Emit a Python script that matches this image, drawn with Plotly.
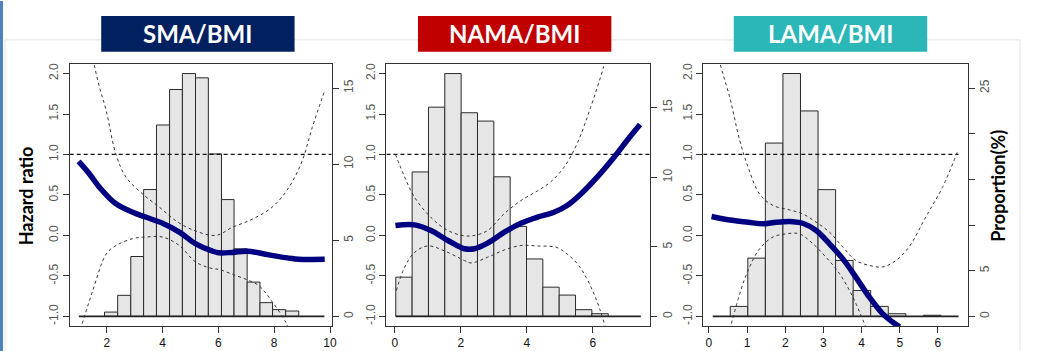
import plotly.graph_objects as go

W, H = 1042, 351

# ---------------- data ----------------
panel_titles = ["SMA/BMI", "NAMA/BMI", "LAMA/BMI"]
title_colors = ["#002060", "#C00000", "#2BB6B8"]

# SMA / BMI
sma_edges = [1.00, 1.46, 1.92, 2.39, 2.86, 3.32, 3.78, 4.25, 4.71, 5.18, 5.64,
             6.11, 6.56, 7.03, 7.49, 7.94, 8.41, 8.88, 9.33, 9.80]
sma_pct = [0, 0, 0.28, 1.38, 3.93, 8.33, 12.57, 14.9, 15.95, 15.67, 10.67,
           7.67, 4.44, 2.25, 0.9, 0.44, 0.35, 0, 0]
sma_hr_x = [0.99, 1.38, 1.74, 2.33, 2.93, 3.41, 4.0, 4.6, 5.19, 5.79, 6.02, 6.5, 7.04, 7.81, 8.76, 9.81]
sma_hr_y = [0.915, 0.76, 0.594, 0.39, 0.286, 0.224, 0.15, 0.04, -0.104, -0.195, -0.215, -0.21, -0.195, -0.24, -0.29, -0.295]
sma_up_x = [1.50, 1.54, 1.74, 1.98, 2.33, 2.69, 3.29, 3.88, 4.48, 5.07, 5.9, 6.5, 7.21, 7.93, 8.52, 9.0, 9.36, 9.81]
sma_up_y = [2.25, 2.13, 1.83, 1.54, 1.0, 0.72, 0.51, 0.35, 0.18, 0.07, 0.0, 0.10, 0.20, 0.35, 0.59, 0.92, 1.33, 1.79]
sma_lo_x = [1.12, 1.5, 1.98, 2.33, 2.93, 3.41, 4.0, 4.6, 5.19, 5.79, 6.02, 6.5, 7.04, 7.45, 7.93, 8.41, 8.5]
sma_lo_y = [-1.09, -0.68, -0.23, -0.125, -0.04, -0.02, -0.02, -0.125, -0.33, -0.41, -0.42, -0.48, -0.55, -0.62, -0.82, -1.07, -1.15]

# NAMA / BMI
nama_edges = [0.03, 0.525, 1.02, 1.515, 2.01, 2.505, 3.0, 3.495, 3.99, 4.485,
              4.98, 5.475, 5.97, 6.465, 6.96, 7.455]
nama_pct = [2.82, 10.39, 15.05, 17.47, 14.65, 14.05, 10.04, 6.47, 4.13, 2.1,
            1.53, 0.48, 0.19, 0, 0]
nama_hr_x = [0.02, 0.6, 1.1, 1.61, 2.11, 2.41, 2.81, 3.32, 3.82, 4.32, 4.82, 5.22, 5.63, 6.13, 6.63, 7.03, 7.43]
nama_hr_y = [0.122, 0.13, 0.06, -0.063, -0.165, -0.165, -0.096, 0.04, 0.15, 0.225, 0.286, 0.37, 0.51, 0.72, 0.96, 1.17, 1.37]
nama_up_x = [0.02, 0.3, 0.6, 1.1, 1.61, 2.11, 2.41, 2.81, 3.32, 3.82, 4.32, 4.72, 5.12, 5.52, 5.93, 6.33, 6.45]
nama_up_y = [1.0, 0.72, 0.47, 0.22, 0.06, -0.005, 0.0, 0.06, 0.27, 0.43, 0.55, 0.66, 0.84, 1.13, 1.58, 2.09, 2.3]
nama_lo_x = [0.05, 0.3, 0.6, 1.0, 1.5, 2.11, 2.31, 2.81, 3.32, 3.82, 4.32, 4.92, 5.22, 5.53, 5.8, 6.03, 6.2, 6.38]
nama_lo_y = [-0.68, -0.39, -0.21, -0.13, -0.19, -0.31, -0.34, -0.27, -0.18, -0.125, -0.13, -0.15, -0.23, -0.35, -0.52, -0.72, -0.9, -1.13]

# LAMA / BMI
lama_edges = [0.10, 0.56, 1.02, 1.48, 1.94, 2.40, 2.86, 3.32, 3.78, 4.24, 4.70,
              5.16, 5.62, 6.08, 6.54]
lama_pct = [0, 1.09, 6.38, 18.98, 26.6, 22.5, 13.88, 6.12, 2.84, 1.09, 0.29,
            0, 0.12, 0]
lama_hr_x = [0.07, 0.55, 1.03, 1.42, 1.77, 2.2, 2.46, 2.81, 3.16, 3.51, 3.85, 4.2, 4.55, 4.81, 5.0]
lama_hr_y = [0.233, 0.19, 0.163, 0.143, 0.163, 0.17, 0.15, 0.06, -0.104, -0.29, -0.515, -0.76, -0.967, -1.07, -1.13]
lama_up_x = [0.25, 0.29, 0.55, 0.81, 1.03, 1.33, 1.68, 2.11, 2.46, 2.81, 3.16, 3.51, 3.85, 4.2, 4.55, 4.9, 5.24, 5.68, 6.12, 6.51]
lama_up_y = [2.25, 2.13, 1.7, 1.17, 0.84, 0.51, 0.37, 0.316, 0.266, 0.163, 0.04, -0.145, -0.31, -0.37, -0.39, -0.31, -0.145, 0.225, 0.594, 1.03]
lama_lo_x = [0.59, 0.81, 1.03, 1.33, 1.68, 2.03, 2.37, 2.72, 3.07, 3.42, 3.77, 4.11]
lama_lo_y = [-1.09, -0.72, -0.43, -0.165, -0.02, 0.02, 0.02, -0.1, -0.27, -0.47, -0.76, -1.13]

hr_ticks = [-1.0, -0.5, 0.0, 0.5, 1.0, 1.5, 2.0]
hr_ticktext = ["-1.0", "-0.5", "0.0", "0.5", "1.0", "1.5", "2.0"]
sma_xticks = [2, 4, 6, 8, 10]
nama_xticks = [0, 2, 4, 6]
lama_xticks = [0, 1, 2, 3, 4, 5, 6]
sma_pticks = [0, 5, 10, 15]
nama_pticks = [0, 5, 10, 15]
lama_pticks = [0, 5, 10, 15, 20, 25]
lama_ptext = ["0", "5", "", "", "", "25"]
ref_hr = 1.0

# ---------------- layout geometry (pixels) ----------------
panels = [
    dict(edges=sma_edges, pct=sma_pct, hx=sma_hr_x, hy=sma_hr_y, ux=sma_up_x, uy=sma_up_y,
         lx=sma_lo_x, ly=sma_lo_y, xt=sma_xticks, pt=sma_pticks, ptext=[str(v) for v in sma_pticks],
         box=(70, 333.3), xr=[0.67, 10.06], pr=[-0.64, 16.59], ref_full=True,
         tbox=(101.7, 296)),
    dict(edges=nama_edges, pct=nama_pct, hx=nama_hr_x, hy=nama_hr_y, ux=nama_up_x, uy=nama_up_y,
         lx=nama_lo_x, ly=nama_lo_y, xt=nama_xticks, pt=nama_pticks, ptext=[str(v) for v in nama_pticks],
         box=(388.3, 653.3), xr=[-0.253, 7.736], pr=[-0.70, 18.17], ref_full=True,
         tbox=(420, 614.3)),
    dict(edges=lama_edges, pct=lama_pct, hx=lama_hr_x, hy=lama_hr_y, ux=lama_up_x, uy=lama_up_y,
         lx=lama_lo_x, ly=lama_lo_y, xt=lama_xticks, pt=lama_pticks, ptext=lama_ptext,
         box=(706.7, 972.7), xr=[-0.146, 6.79], pr=[-1.064, 27.66], ref_full=False,
         tbox=(737.3, 931.7)),
]
BOX_TOP, BOX_BOT = 63, 326
HR_RANGE = [-1.12, 2.12]


def px(x):
    return x / W


def py(y):
    return 1 - y / H


fig = go.Figure()
layout = dict(
    width=W, height=H, margin=dict(l=0, r=0, t=0, b=0),
    paper_bgcolor="white", plot_bgcolor="white",
    showlegend=False, barmode="overlay", bargap=0, hovermode=False,
    font=dict(family="Liberation Sans, Arial, sans-serif", size=12, color="#444"),
)

tickfont_y = dict(family="Liberation Sans, Arial, sans-serif", size=12, color="#555")
tickfont_x = dict(family="Liberation Sans, Arial, sans-serif", size=12, color="#111")
linecol = "#333"

for i, p in enumerate(panels):
    n = i + 1
    xa = "x" if n == 1 else f"x{n}"
    ya_h = "y" if n == 1 else f"y{2 * n - 1}"   # histogram axis (right)
    ya_r = f"y{2 * n}"                          # hazard ratio axis (left)
    xkey = "xaxis" if n == 1 else f"xaxis{n}"
    yhkey = "yaxis" if n == 1 else f"yaxis{2 * n - 1}"
    yrkey = f"yaxis{2 * n}"

    dom_x = [px(p["box"][0]), px(p["box"][1])]
    dom_y = [py(BOX_BOT), py(BOX_TOP)]

    layout[xkey] = dict(domain=dom_x, range=p["xr"], anchor=ya_h, tickvals=p["xt"],
                        ticks="outside", ticklen=6, tickcolor=linecol, showline=True,
                        linecolor=linecol, linewidth=1, mirror=True, showgrid=False,
                        zeroline=False, tickfont=tickfont_x, fixedrange=True)
    layout[yhkey] = dict(domain=dom_y, range=p["pr"], anchor=xa, side="right",
                         tickvals=p["pt"], ticktext=p["ptext"], tickangle=-90,
                         ticks="outside", ticklen=6, tickcolor=linecol, showline=True,
                         linecolor=linecol, linewidth=1, mirror=True, showgrid=False,
                         zeroline=False, tickfont=tickfont_y, fixedrange=True)
    layout[yrkey] = dict(range=HR_RANGE, overlaying=ya_h, anchor=xa, side="left",
                         tickvals=hr_ticks, ticktext=hr_ticktext, tickangle=-90,
                         ticks="outside", ticklen=6, tickcolor=linecol, showline=False,
                         showgrid=False, zeroline=False, tickfont=tickfont_y, fixedrange=True)

    edges = p["edges"]
    cx, cy, cw = [], [], []
    for k, v in enumerate(p["pct"]):
        if v > 0:
            cx.append((edges[k] + edges[k + 1]) / 2)
            cw.append(edges[k + 1] - edges[k])
            cy.append(v)
    fig.add_trace(go.Bar(x=cx, y=cy, width=cw, xaxis=xa, yaxis=ya_h,
                         marker=dict(color="#e6e6e6", line=dict(color="#2a2a2a", width=1))))
    fig.add_trace(go.Scatter(x=[edges[0], edges[-1]], y=[0, 0], mode="lines",
                             line=dict(color="#222", width=1.6), xaxis=xa, yaxis=ya_h))

    # reference line at HR = 1
    x_end = p["xr"][1] if p["ref_full"] else edges[-1]
    fig.add_trace(go.Scatter(x=[p["xr"][0], x_end], y=[ref_hr, ref_hr], mode="lines",
                             line=dict(color="#111", width=1.3, dash="4px,3px"),
                             xaxis=xa, yaxis=ya_r))
    # confidence bands
    for xs, ys in ((p["ux"], p["uy"]), (p["lx"], p["ly"])):
        fig.add_trace(go.Scatter(x=xs, y=ys, mode="lines", line_shape="spline",
                                 line=dict(color="#333", width=1, dash="3px,3px"),
                                 xaxis=xa, yaxis=ya_r))
    # hazard ratio curve
    fig.add_trace(go.Scatter(x=p["hx"], y=p["hy"], mode="lines", line_shape="spline",
                             line=dict(color="#000080", width=5.5),
                             xaxis=xa, yaxis=ya_r))

# ---------------- slide decorations ----------------
shapes = [
    dict(type="rect", xref="paper", yref="paper", x0=0, x1=px(3), y0=0, y1=1,
         fillcolor="#4F81BD", line=dict(width=0), layer="below"),
    dict(type="line", xref="paper", yref="paper", x0=px(5), x1=px(1025), y0=py(39), y1=py(39),
         line=dict(color="#e4e4e4", width=1), layer="below"),
    dict(type="line", xref="paper", yref="paper", x0=px(5), x1=px(5), y0=py(39), y1=0,
         line=dict(color="#e4e4e4", width=1), layer="below"),
    dict(type="line", xref="paper", yref="paper", x0=px(1025), x1=px(1025), y0=py(39), y1=0,
         line=dict(color="#e4e4e4", width=1), layer="below"),
]
annotations = []
for p, t, c in zip(panels, panel_titles, title_colors):
    x0, x1 = p["tbox"]
    shapes.append(dict(type="rect", xref="paper", yref="paper", x0=px(x0), x1=px(x1),
                       y0=py(51), y1=py(15), fillcolor=c, line=dict(width=0)))
    annotations.append(dict(xref="paper", yref="paper", x=px((x0 + x1) / 2), y=py(33),
                            text=f"<b>{t}</b>", showarrow=False, xanchor="center", yanchor="middle",
                            font=dict(family="Lato, Open Sans, sans-serif", size=24, color="white")))

annotations.append(dict(xref="paper", yref="paper", x=px(27), y=py(195), text="<b>Hazard ratio</b>",
                        showarrow=False, textangle=-90, xanchor="center", yanchor="middle",
                        font=dict(family="Lato, sans-serif", size=18, color="black")))
annotations.append(dict(xref="paper", yref="paper", x=px(1003), y=py(185), text="<b>Proportion(%)</b>",
                        showarrow=False, textangle=-90, xanchor="center", yanchor="middle",
                        font=dict(family="Lato, sans-serif", size=18, color="black")))

layout["shapes"] = shapes
layout["annotations"] = annotations
fig.update_layout(**layout)

fig.write_html("out.html",
               config={"displayModeBar": False, "staticPlot": True},
               post_script="document.body.style.margin='0';document.body.style.padding='0';document.body.style.overflow='hidden';")
